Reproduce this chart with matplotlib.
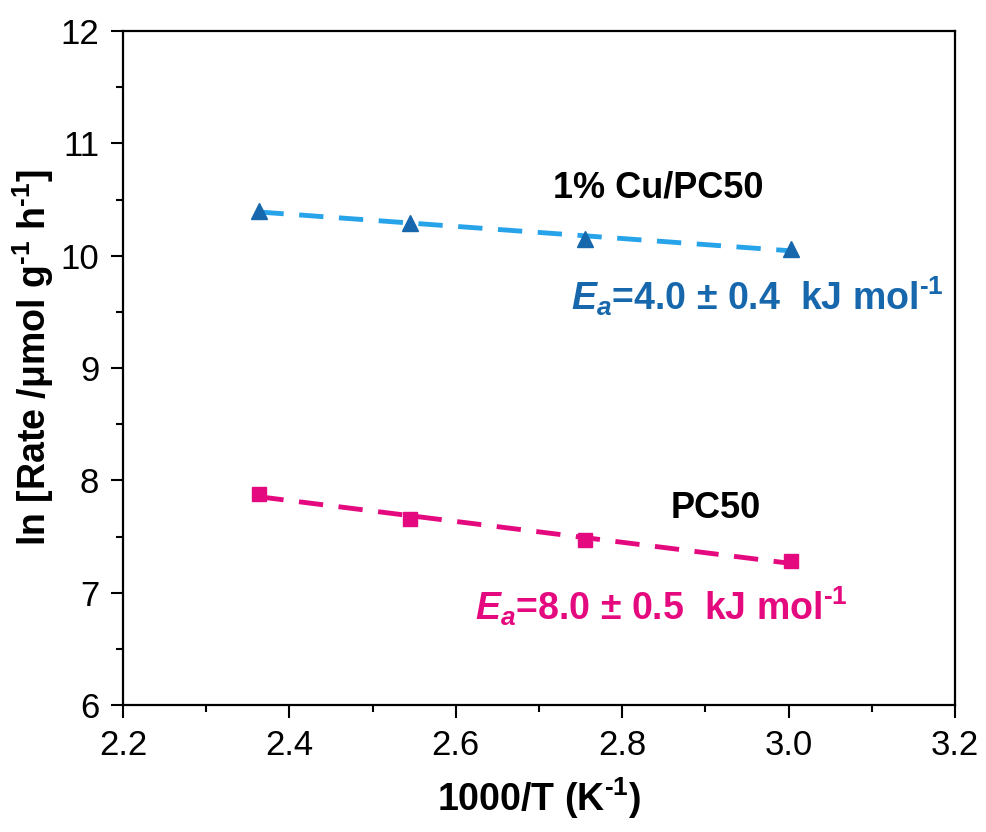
import numpy as np
import matplotlib
matplotlib.use("Agg")
import matplotlib.pyplot as plt
from matplotlib.ticker import MultipleLocator

plt.rcParams['font.family'] = ['Liberation Sans', 'DejaVu Sans']
plt.rcParams['mathtext.fontset'] = 'custom'
plt.rcParams['mathtext.rm'] = 'Liberation Sans:bold'
plt.rcParams['mathtext.bf'] = 'Liberation Sans:bold'
plt.rcParams['mathtext.it'] = 'Liberation Sans:bold:italic'

# 1000/T for the four reaction temperatures
inv_T = [2.364, 2.545, 2.755, 3.003]
# ln(rate) for each catalyst
ln_rate_cu = [10.40, 10.29, 10.15, 10.06]
ln_rate_pc50 = [7.88, 7.66, 7.47, 7.28]

ea_cu = "4.0 ± 0.4"
ea_pc50 = "8.0 ± 0.5"

dark_blue = '#1767ad'
light_blue = '#27a3ea'
magenta = '#e5097f'

fig = plt.figure(figsize=(9.86, 8.32), dpi=100)
ax = fig.add_axes([0.1247, 0.1526, 0.8439, 0.8101])

x = np.array(inv_T)
for y, mcol, lcol, mk, ms in [(ln_rate_cu, dark_blue, light_blue, '^', 12),
                              (ln_rate_pc50, magenta, magenta, 's', 9.5)]:
    y = np.array(y)
    k, b = np.polyfit(x, y, 1)
    xf = np.array([x.min(), x.max()])
    ax.plot(xf, k * xf + b, color=lcol, lw=3.5, ls=(0, (5, 3.2)), zorder=2)
    ax.plot(x, y, ls='none', marker=mk, ms=ms, color=mcol, zorder=3)

sup = r"$^{\text{-1}}$"
ax.text(2.843, 10.60, "1% Cu/PC50", ha='center', va='center',
        fontsize=26, fontweight='bold', color='black')
ax.text(2.962, 9.64, r"$E_a$=" + ea_cu + "  kJ mol" + sup, ha='center', va='center',
        fontsize=27, fontweight='bold', color=dark_blue)
ax.text(2.912, 7.75, "PC50", ha='center', va='center',
        fontsize=26, fontweight='bold', color='black')
ax.text(2.847, 6.88, r"$E_a$=" + ea_pc50 + "  kJ mol" + sup, ha='center', va='center',
        fontsize=27, fontweight='bold', color=magenta)

ax.set_xlim(2.2, 3.2)
ax.set_ylim(6, 12)
ax.xaxis.set_major_locator(MultipleLocator(0.2))
ax.xaxis.set_minor_locator(MultipleLocator(0.1))
ax.yaxis.set_major_locator(MultipleLocator(1))
ax.yaxis.set_minor_locator(MultipleLocator(0.5))
ax.tick_params(which='major', direction='out', length=9, width=1.5, labelsize=25, pad=8)
ax.tick_params(which='minor', direction='out', length=5, width=1.5)
for s in ax.spines.values():
    s.set_linewidth(1.6)

ax.set_xlabel("1000/T (K" + sup + ")", fontsize=27, fontweight='bold', labelpad=10)
ax.set_ylabel("ln [Rate /μmol g" + sup + " h" + sup + "]", fontsize=27,
              fontweight='bold', labelpad=3)
ax.yaxis.label.set_y(0.515)

fig.savefig("out.png", dpi=100)
